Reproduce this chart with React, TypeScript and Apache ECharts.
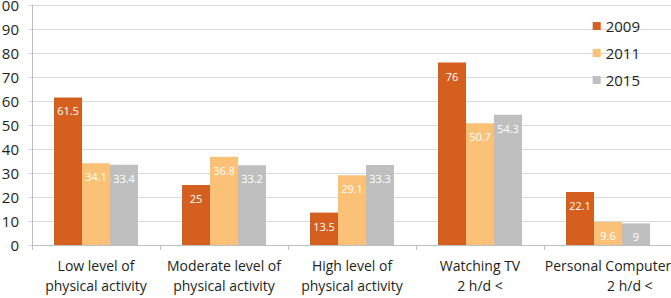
import React, { useEffect, useRef } from "react";
import * as echarts from "echarts";

const categories = [
  "Low level of\nphysical activity",
  "Moderate level of\nphysical activity",
  "High level of\nphysical activity",
  "Watching TV\n2 h/d <",
  "Personal Computer\n            2 h/d <",
];
const years = ["2009", "2011", "2015"];
const values2009 = [61.5, 25, 13.5, 76, 22.1];
const values2011 = [34.1, 36.8, 29.1, 50.7, 9.6];
const values2015 = [33.4, 33.2, 33.3, 54.3, 9];
const yTicks = [0, 10, 20, 30, 40, 50, 60, 70, 80, 90, 100];

const colors = ["#D45F1F", "#FBC277", "#BFBFBF"];
const FONT = "'Open Sans', 'Noto Sans', sans-serif";

export default function App() {
  const ref = useRef<HTMLDivElement>(null);

  useEffect(() => {
    if (!ref.current) return;
    const chart = echarts.init(ref.current, undefined, { renderer: "svg" });
    const seriesData = [values2009, values2011, values2015];
    chart.setOption({
      animation: false,
      color: colors,
      textStyle: { fontFamily: FONT },
      grid: { left: 32, right: -1, top: 5, bottom: 53, outerBoundsMode: "none", containLabel: false },
      legend: {
        data: years,
        orient: "vertical",
        right: 26,
        top: 13,
        itemWidth: 8,
        itemHeight: 8,
        itemGap: 11,
        icon: "rect",
        textStyle: { fontSize: 15, color: "#231F20", fontFamily: FONT, lineHeight: 16 },
      },
      xAxis: {
        type: "category",
        data: categories,
        axisLine: { lineStyle: { color: "#BFBFBF" } },
        axisTick: { show: true, length: 5, lineStyle: { color: "#BFBFBF" } },
        axisLabel: {
          interval: 0,
          margin: 10,
          fontSize: 14,
          lineHeight: 20,
          color: "#231F20",
          fontFamily: FONT,
          hideOverlap: false,
        },
      },
      yAxis: {
        type: "value",
        min: yTicks[0],
        max: yTicks[yTicks.length - 1],
        interval: 10,
        axisLine: { show: true, lineStyle: { color: "#BFBFBF" } },
        axisTick: { show: true, length: 4, lineStyle: { color: "#D9D9D9" } },
        splitLine: { lineStyle: { color: "#D9D9D9" } },
        axisLabel: { fontSize: 15, color: "#231F20", margin: 13, fontFamily: FONT },
      },
      series: years.map((y, i) => ({
        name: y,
        type: "bar",
        data: seriesData[i],
        barWidth: 28,
        barGap: "0%",
        label: {
          show: true,
          position: "insideTop",
          distance: 8,
          color: "#FFFFFF",
          fontSize: 11,
          fontFamily: FONT,
        },
      })),
    });
    return () => chart.dispose();
  }, []);

  return (
    <div
      ref={ref}
      style={{ position: "absolute", left: 0, top: 0, width: 671, height: 298, background: "#fff" }}
    />
  );
}
